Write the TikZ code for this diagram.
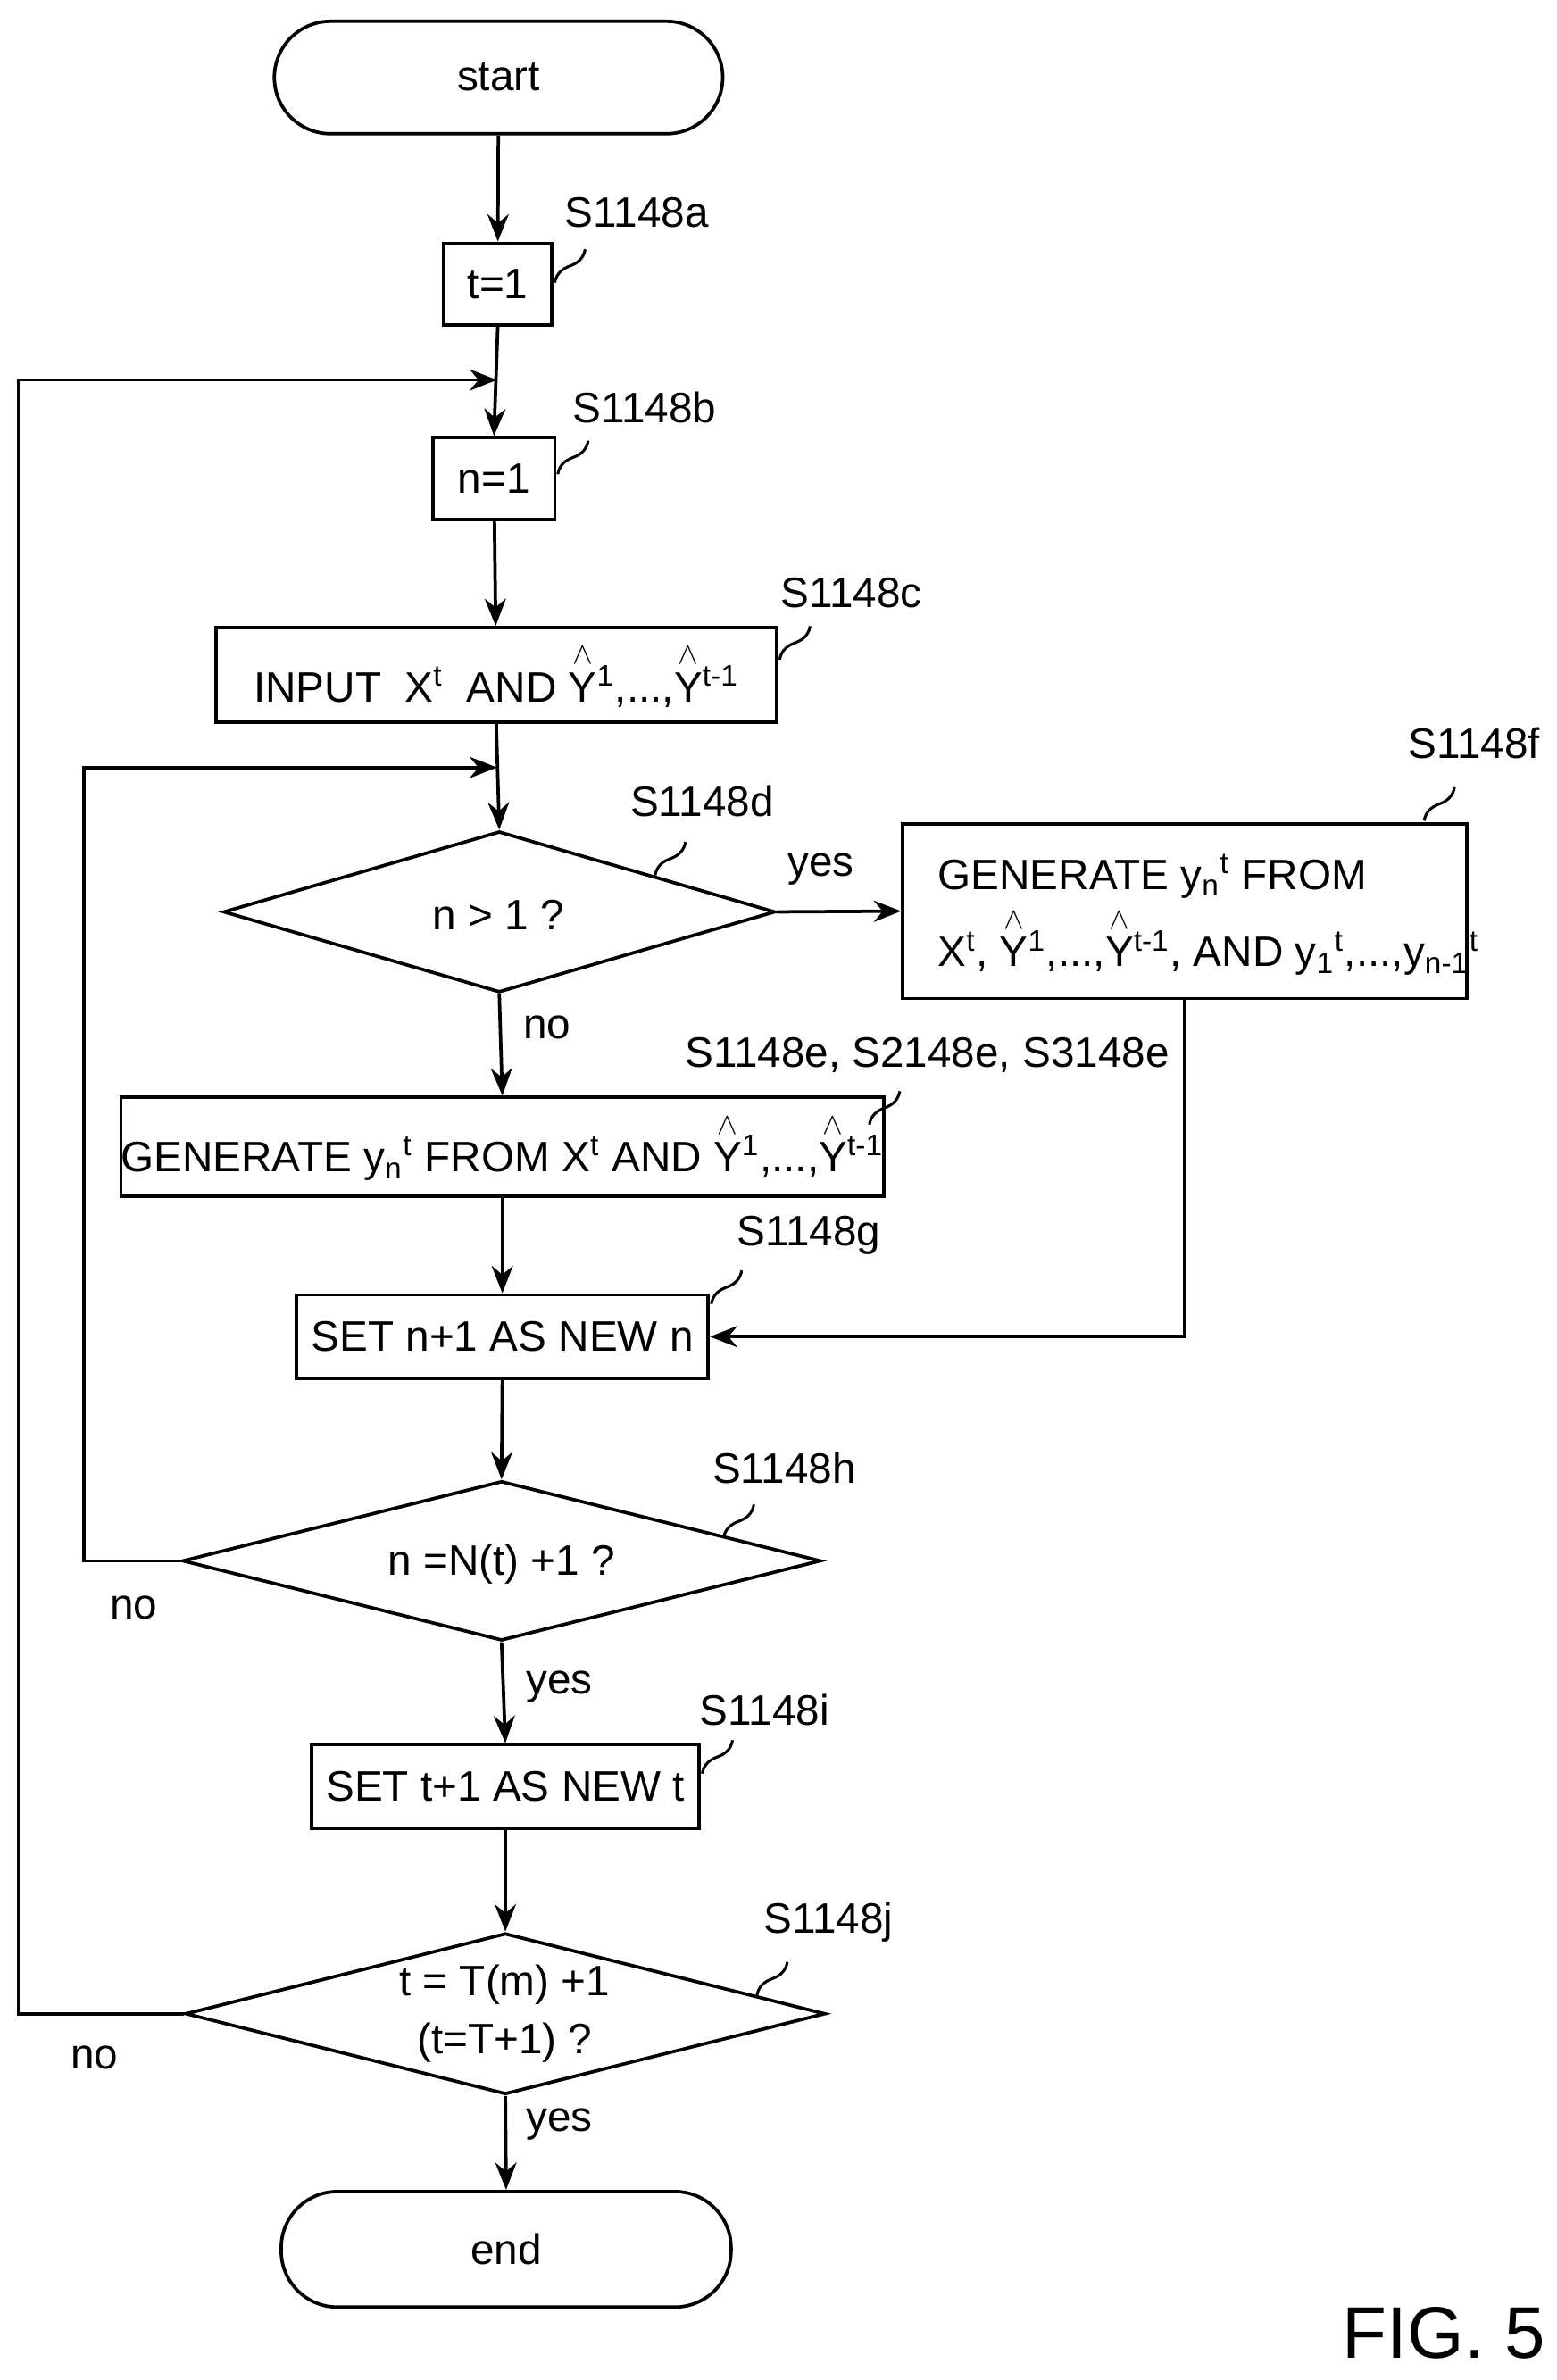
\documentclass[tikz,border=0pt]{standalone}
\usepackage{amsmath}
\usepackage{fontspec}
\setmainfont{Liberation Sans}
\usetikzlibrary{shapes.geometric,arrows.meta}
\newcommand{\Yh}{\ensuremath{\overset{\wedge}{\mbox{Y}}}}
\begin{document}
\begin{tikzpicture}[x=0.5pt,y=-0.5pt,
  every node/.style={font=\fontsize{14}{17}\selectfont},
  box/.style={draw,line width=1.1pt,inner sep=0pt,anchor=center},
  term/.style={draw,line width=1.1pt,rounded corners=18.5pt,inner sep=0pt},
  dia/.style={draw,line width=1.1pt,diamond,inner sep=0pt},
  ln/.style={line width=1.1pt},
  ar/.style={line width=1.1pt,-{Stealth[length=9pt,width=7pt]}},
  lab/.style={font=\fontsize{14}{17}\selectfont}]
\useasboundingbox (0,0) rectangle (1024,1566);
% terminators
\node[term,minimum width=147.5pt,minimum height=37pt] (start) at (328,51) {start};
\node[term,minimum width=148pt,minimum height=38pt] (end) at (333,1480) {end};
% boxes
\node[box,minimum width=35.5pt,minimum height=27pt] (t1) at (327.5,187) {t=1};
\node[box,minimum width=40pt,minimum height=27pt] (n1) at (325,315) {n=1};
\node[box,minimum width=184.5pt,minimum height=31pt] (inp) at (326.5,444) {INPUT\ \ X\textsuperscript{t}\ \ AND \Yh\textsuperscript{1},...,\Yh\textsuperscript{t-1}};
\node[dia,minimum width=181.5pt,minimum height=53pt,aspect=3.4] (d1) at (328.5,600) {};
\node at (328,602) {n > 1 ?};
\node[box,minimum width=185.5pt,minimum height=57.5pt] (bf) at (779.5,599.5) {};
\node[align=left,anchor=west] at (610,602) {GENERATE y\textsubscript{n}\textsuperscript{t} FROM\\[2pt] X\textsuperscript{t}, \Yh\textsuperscript{1},...,\Yh\textsuperscript{t-1}, AND y\textsubscript{1}\textsuperscript{t},...,y\textsubscript{n-1}\textsuperscript{t}};
\node[box,minimum width=242.5pt,minimum height=32.5pt] (be) at (330.5,754.5) {GENERATE y\textsubscript{n}\textsuperscript{t} FROM X\textsuperscript{t} AND \Yh\textsuperscript{1},...,\Yh\textsuperscript{t-1}};
\node[box,minimum width=135.5pt,minimum height=27.5pt] (bg) at (330.5,879.5) {SET n+1 AS NEW n};
\node[dia,minimum width=210pt,minimum height=52.5pt,aspect=4] (d2) at (330,1027) {};
\node at (330,1029) {n =N(t) +1 ?};
\node[box,minimum width=127.5pt,minimum height=27.5pt] (bi) at (332.5,1175.5) {SET t+1 AS NEW t};
\node[dia,minimum width=210.5pt,minimum height=53pt,aspect=4] (d3) at (332.5,1325) {};
\node[align=center] at (332,1325) {t = T(m) +1\\[2pt](t=T+1) ?};
% connectors
\draw[ar] (start) -- (t1);
\draw[ar] (t1.south) -- (n1.north);
\draw[ar] (n1) -- (inp);
\draw[ar] (inp.south) -- (d1.north);
\draw[ar] (d1.east) -- (bf.west);
\draw[ar] (d1.south) -- (be.north);
\draw[ar] (be.south) -- (bg.north);
\draw[ar] (bf.south) |- (bg.east);
\draw[ar] (bg.south) -- (d2.north);
\draw[ar] (d2.south) -- (bi.north);
\draw[ar] (bi.south) -- (d3.north);
\draw[ar] (d3.south) -- (end.north);
\coordinate (j1) at (327,505);
\coordinate (j2) at (327,250);
\draw[ar] (d2.west) -- (55,1027) -- (55,505) -- (j1);
\draw[ar] (d3.west) -- (12,1325) -- (12,250) -- (j2);
% yes/no
\node[lab] at (540,572) {yes};
\node[lab] at (360,676) {no};
\node[lab] at (88,1058) {no};
\node[lab] at (368,1110) {yes};
\node[lab] at (62,1354) {no};
\node[lab] at (368,1398) {yes};
% step labels with squiggles
\newcommand{\sq}[2]{\draw[line width=0.9pt] (#1,#2) to[out=80,in=200] ++(10,-11) to[out=20,in=260] ++(10,-11);}
\node[lab] at (419,140) {S1148a}; \sq{365}{186}
\node[lab] at (424,268) {S1148b}; \sq{367}{312}
\node[lab] at (560,390) {S1148c}; \sq{513}{434}
\node[lab] at (462,527) {S1148d}; \sq{431}{576}
\node[lab] at (970,489) {S1148f}; \sq{937}{540}
\node[lab] at (610,694) {S1148e, S2148e, S3148e}; \sq{572}{740}
\node[lab] at (532,813) {S1148g}; \sq{468}{858}
\node[lab] at (516,966) {S1148h}; \sq{476}{1012}
\node[lab] at (503,1125) {S1148i}; \sq{462}{1167}
\node[lab] at (545,1265) {S1148j}; \sq{498}{1313}
\node[font=\fontsize{24}{28}\selectfont] at (950,1535) {FIG. 5};
\end{tikzpicture}
\end{document}
